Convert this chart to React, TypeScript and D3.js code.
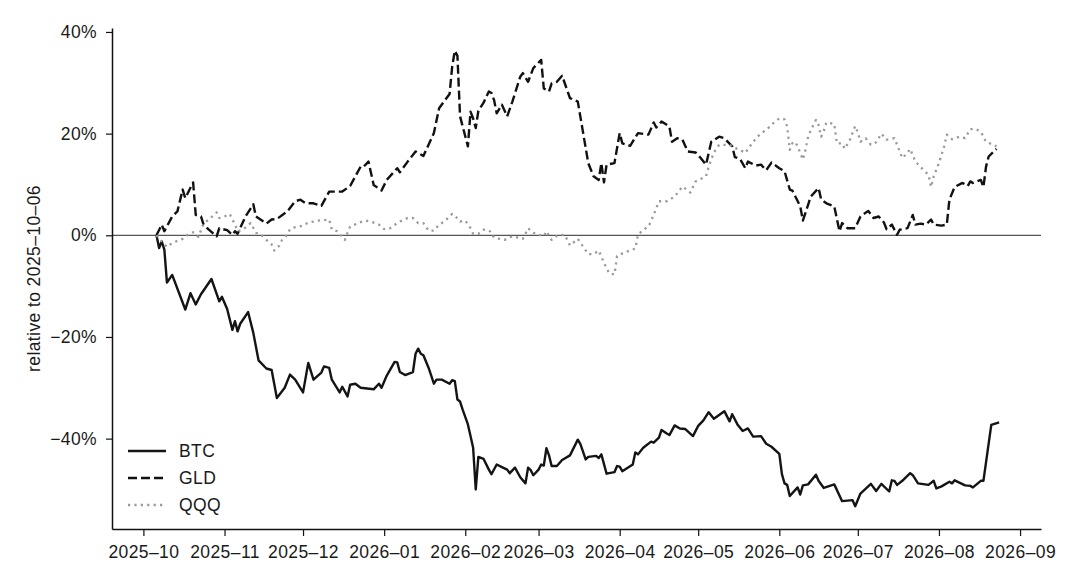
// @ts-nocheck
import { useRef, useEffect } from "react";
import * as d3 from "d3";

// days since 2025-10-06, % change relative to that date
const startDate = "2025-10-06";

const btc = [
  [0, 0], [1, -2.5], [2, -1.2], [3, -2.8], [4, -9.3], [6, -7.8], [11, -14.6], [13, -11.4],
  [15, -13.6], [17, -11.6], [21, -8.6], [24, -13], [25, -12.1], [27, -14.5], [29, -18.6],
  [30, -16.9], [31, -18.9], [32, -17.4], [35, -15.1], [37, -19.2], [39, -24.6], [42, -26.2],
  [44, -26.5], [46, -32], [49, -30], [51, -27.4], [53, -28.4], [56, -30.9], [58, -25.1],
  [60, -28.4], [63, -27], [64, -25.8], [66, -26.1], [67, -28.4], [70, -30.9], [71, -29.8],
  [73, -31.7], [74, -29.4], [76, -29.2], [78, -30], [83, -30.3], [85, -29.2], [86, -30],
  [88, -27.6], [91, -24.9], [92, -25], [93, -26.9], [95, -27.5], [98, -26.9], [99, -23.3],
  [100, -22.3], [101, -23.3], [102, -23.6], [104, -26.1], [106, -29.2], [107, -28.4],
  [109, -28.4], [112, -29.2], [113, -28.5], [114, -28.7], [115, -32.3], [116, -32.7],
  [117, -34.3], [119, -37.2], [120, -39.5], [121, -41.8], [122, -50], [123, -43.6],
  [125, -44], [127, -46.1], [128, -47], [130, -45.1], [132, -45.6], [134, -46.1], [135, -46.8],
  [137, -45.7], [139, -47.6], [141, -48.8], [142, -45.7], [143, -46.2], [144, -47.2],
  [146, -46.1], [147, -45.1], [148, -45.3], [149, -41.9], [150, -43.3], [151, -45.4],
  [153, -45.4], [155, -44.2], [158, -43.3], [161, -40.2], [162, -41.1], [164, -44.1],
  [165, -43.6], [168, -43.4], [169, -43.8], [170, -43.1], [172, -46.9], [174, -46.7],
  [175, -46.6], [176, -45.4], [177, -45.5], [178, -46.4], [182, -45.1], [183, -42.7],
  [184, -43.1], [186, -41.8], [189, -40.6], [190, -40.8], [192, -39.8], [193, -38.3],
  [195, -39], [196, -39.3], [198, -37.4], [200, -38], [202, -38.1], [205, -39.5], [207, -37.5],
  [209, -36.4], [211, -34.8], [213, -36.1], [217, -34.6], [219, -36.6], [220, -35.2],
  [222, -37.2], [224, -38.5], [226, -38], [228, -39.6], [231, -39.5], [233, -41], [235, -41.6],
  [238, -43], [239, -47], [240, -48.8], [241, -49.1], [242, -51.3], [245, -49.6], [246, -51],
  [247, -49.2], [249, -49], [252, -47.1], [253, -48.3], [255, -49.7], [259, -49], [262, -52.3],
  [266, -52.1], [267, -53.3], [269, -50.8], [273, -48.9], [275, -50.3], [277, -48.9],
  [280, -50.4], [281, -48.2], [282, -48.3], [283, -49.1], [285, -48.3], [288, -46.8],
  [289, -47.2], [291, -48.8], [295, -49.1], [297, -48.3], [298, -49.8], [300, -49.4],
  [303, -48.5], [304, -48.8], [305, -48.2], [309, -49.2], [311, -49.3], [312, -49.6],
  [315, -48.3], [316, -48.3], [319, -37.3], [322, -36.8],
];

const gld = [
  [0, 0], [2, 2.1], [3, 0.8], [6, 3.7], [8, 4.7], [10, 9], [11, 7.3], [14, 10.4], [15, 4],
  [17, 3.7], [18, 2.1], [20, 1.1], [23, -0.2], [24, 1.4], [27, 1], [29, 0.1], [30, 0.8],
  [31, 0.3], [34, 3.7], [37, 6.1], [38, 3.7], [42, 2.3], [44, 3.1], [46, 3.2], [50, 4.7],
  [53, 6.7], [55, 7], [57, 6.3], [60, 6.3], [63, 5.8], [66, 8.6], [71, 8.6], [74, 9.7],
  [78, 13.5], [79, 13.4], [81, 14.5], [83, 9.9], [86, 8.8], [88, 10.9], [92, 13.2], [93, 12.4],
  [96, 14.5], [99, 16.5], [100, 16.2], [102, 15.6], [106, 20.1], [108, 25], [112, 27.8],
  [113, 33.2], [114, 36.3], [115, 35.3], [116, 23.4], [119, 17.5], [120, 24.3], [121, 23],
  [122, 21.1], [123, 24.5], [125, 26.1], [127, 28.3], [128, 28], [129, 26.6], [130, 24],
  [132, 25.7], [134, 23.4], [136, 26.3], [139, 31.2], [140, 31.9], [142, 30.2], [144, 32.9],
  [147, 34.5], [148, 28.9], [150, 28.3], [151, 29.9], [153, 30.2], [155, 31.4], [158, 27],
  [161, 26.3], [165, 14.2], [167, 11.6], [169, 10.9], [170, 14.2], [171, 10.4], [172, 13.9],
  [175, 14.2], [177, 20.1], [178, 18.1], [181, 17.6], [184, 20.1], [188, 19.8], [190, 22.2],
  [191, 21.2], [193, 22.4], [196, 21.4], [197, 18.4], [199, 19.1], [201, 18.8], [203, 16.5],
  [206, 16.3], [207, 15.8], [210, 13.9], [212, 18.4], [215, 19.4], [217, 19.1], [220, 17.5],
  [221, 15.4], [223, 15], [225, 13.2], [226, 14.5], [229, 13.7], [231, 13.9], [233, 12.8],
  [235, 14.3], [238, 13.2], [240, 12.6], [242, 9], [243, 8.8], [246, 5.7], [247, 2.9],
  [249, 6], [250, 7.6], [253, 9.3], [254, 7], [256, 6.3], [259, 5.7], [261, 0.8], [262, 2.4],
  [264, 1.4], [267, 1.4], [269, 3.7], [272, 4.8], [274, 3.4], [276, 3.7], [278, 2.5],
  [279, 1.2], [281, 2.1], [283, 0.1], [284, 1.1], [287, 1.4], [289, 4], [290, 2.1], [292, 2.3],
  [294, 2.1], [296, 3.1], [297, 2.1], [300, 1.9], [302, 2.1], [303, 7], [305, 9.5], [308, 10.3],
  [310, 9.7], [311, 10.6], [312, 10.3], [315, 10.9], [316, 9.5], [317, 13.5], [318, 15.5],
  [320, 16.5], [321, 17],
];

const qqq = [
  [0, 0], [2, -1.2], [4, -2.3], [6, -1.5], [10, -0.7], [12, 0.1], [14, 0.6], [16, -0.3],
  [18, 2.3], [20, 3.1], [23, 4.5], [24, 3.4], [26, 3.7], [28, 4.2], [30, 2.1], [31, 0.8],
  [33, 1.1], [36, 2.4], [38, 0.5], [40, 0.1], [42, -0.9], [44, -1.8], [45, -3], [47, -2],
  [48, -0.9], [50, 0.1], [51, 1.2], [53, 1.6], [56, 1.9], [58, 2.5], [62, 2.9], [66, 3.1],
  [67, 1.1], [69, 0.8], [72, -0.9], [73, 0.5], [74, 1.7], [78, 2.6], [80, 2.9], [83, 2.5],
  [85, 2.1], [87, 1.2], [89, 1.3], [92, 2.4], [93, 2.7], [96, 3.4], [98, 3.4], [100, 2.4],
  [102, 2.4], [104, 0.9], [106, 0.9], [108, 2.1], [110, 2.7], [113, 4.2], [114, 3.9],
  [116, 2.7], [118, 2.9], [120, 1.4], [121, 0.3], [123, 0.3], [125, 1.1], [127, 1], [128, 0.5],
  [129, -0.5], [133, -0.9], [136, -0.2], [140, -0.7], [142, 1.4], [144, 0.5], [148, -0.2],
  [149, 0.8], [151, -0.9], [153, -0.1], [156, 0.1], [158, -2], [161, -0.7], [165, -3.7],
  [167, -3.7], [169, -3], [171, -5.4], [173, -7.5], [175, -7.7], [176, -4.1], [179, -3.3],
  [181, -3], [183, -2.6], [184, 0.1], [186, 1.1], [188, 1.7], [190, 4], [192, 6.7], [195, 6.7],
  [198, 7.6], [201, 9.6], [204, 8.4], [206, 10.6], [210, 11.6], [211, 13.5], [213, 16.3],
  [215, 17.8], [219, 17.8], [221, 17.2], [223, 16.8], [225, 16.2], [228, 18.4], [231, 20.1],
  [233, 20.7], [236, 22.2], [238, 23], [240, 22.8], [241, 21.4], [242, 16.8], [243, 18.1],
  [244, 18.4], [245, 17.5], [247, 14.9], [248, 16.8], [249, 19.4], [251, 21.7], [252, 22.7],
  [253, 21.7], [254, 19.4], [255, 20.6], [256, 22.2], [259, 21.9], [260, 18.1], [262, 18.1],
  [263, 17], [265, 18.8], [267, 21.5], [268, 20.2], [269, 18.4], [271, 19.1], [273, 17.8],
  [275, 18.3], [277, 20], [279, 18.8], [282, 19.1], [285, 15.2], [287, 16.2], [288, 17],
  [290, 14.5], [293, 12.9], [295, 11.9], [296, 9.5], [297, 11.6], [299, 14.2], [301, 17.5],
  [302, 19.8], [304, 18.9], [307, 19.4], [309, 19.1], [311, 20.9], [313, 20.9], [315, 20.4],
  [317, 18.4], [321, 17.5],
];

const yTicks = [-40, -20, 0, 20, 40];

const seriesList = [
  { name: "BTC", data: btc, color: "#141414", width: 2.4, dash: null },
  { name: "GLD", data: gld, color: "#111111", width: 2.4, dash: "9,4" },
  { name: "QQQ", data: qqq, color: "#9a9a9a", width: 2.3, dash: "2.2,4.2" },
];

const ChangeChart = ({ width = 1080, height = 585 }) => {
  const svgRef = useRef();

  useEffect(() => {
    const svg = d3.select(svgRef.current);
    svg.selectAll("*").remove();

    const margin = { top: 28, right: 39, bottom: 56, left: 112 };
    const t0 = new Date(startDate + "T00:00:00Z");
    const toDate = (d) => d3.utcDay.offset(t0, d);

    const all = seriesList.flatMap((s) => s.data);
    const [d0, d1] = d3.extent(all, (d) => d[0]);
    const [v0, v1] = d3.extent(all, (d) => d[1]);
    const dPad = (d1 - d0) * 0.05;
    const vPad = (v1 - v0) * 0.05;

    const x = d3
      .scaleUtc()
      .domain([toDate(d0 - dPad), toDate(d1 + dPad)])
      .range([margin.left, width - margin.right]);

    const y = d3
      .scaleLinear()
      .domain([v0 - vPad, v1 + vPad])
      .range([height - margin.bottom, margin.top]);

    const font = "'Liberation Sans', Arial, Helvetica, sans-serif";
    const fontSize = "17.5px";
    const spacing = "0.4px";

    // zero reference line
    svg
      .append("line")
      .attr("x1", margin.left)
      .attr("x2", width - margin.right)
      .attr("y1", y(0))
      .attr("y2", y(0))
      .attr("stroke", "#555")
      .attr("stroke-width", 1.3);

    const line = d3
      .line()
      .x((d) => x(toDate(d[0])))
      .y((d) => y(d[1]));

    seriesList.forEach((s) => {
      svg
        .append("path")
        .datum(s.data)
        .attr("fill", "none")
        .attr("stroke", s.color)
        .attr("stroke-width", s.width)
        .attr("stroke-linejoin", "round")
        .attr("stroke-dasharray", s.dash)
        .attr("d", line);
    });

    const xAxis = svg
      .append("g")
      .attr("transform", `translate(0,${height - margin.bottom})`)
      .call(
        d3
          .axisBottom(x)
          .ticks(d3.utcMonth.every(1))
          .tickFormat(d3.utcFormat("%Y–%m"))
          .tickSize(7)
          .tickSizeOuter(0)
          .tickPadding(10)
      );

    const yAxis = svg
      .append("g")
      .attr("transform", `translate(${margin.left},0)`)
      .call(
        d3
          .axisLeft(y)
          .tickValues(yTicks)
          .tickFormat((d) => `${d < 0 ? "−" : ""}${Math.abs(d)}%`)
          .tickSize(6)
          .tickSizeOuter(0)
          .tickPadding(9)
      );

    [xAxis, yAxis].forEach((g) => {
      g.select(".domain").attr("stroke", "#111").attr("stroke-width", 1.5);
      g.selectAll(".tick line").attr("stroke", "#111").attr("stroke-width", 1.2);
      g.selectAll(".tick text")
        .attr("fill", "#1a1a1a")
        .style("font-family", font)
        .style("font-size", fontSize)
        .style("letter-spacing", spacing);
    });

    // y label
    svg
      .append("text")
      .attr("transform", `translate(40,${(margin.top + height - margin.bottom) / 2}) rotate(-90)`)
      .attr("text-anchor", "middle")
      .attr("fill", "#1a1a1a")
      .style("font-family", font)
      .style("font-size", fontSize)
      .style("letter-spacing", spacing)
      .text("relative to 2025–10–06");

    // legend
    const legend = svg.append("g").attr("transform", "translate(128,451)");
    seriesList.forEach((s, i) => {
      const row = legend.append("g").attr("transform", `translate(0,${i * 27})`);
      row
        .append("line")
        .attr("x1", 0)
        .attr("x2", 38)
        .attr("stroke", s.color)
        .attr("stroke-width", s.width)
        .attr("stroke-dasharray", s.dash);
      row
        .append("text")
        .attr("x", 51)
        .attr("dy", "0.36em")
        .attr("fill", "#1a1a1a")
        .style("font-family", font)
        .style("font-size", fontSize)
        .style("letter-spacing", spacing)
        .text(s.name);
    });
  }, [width, height]);

  return (
    <svg
      ref={svgRef}
      width={width}
      height={height}
      style={{ position: "absolute", left: 0, top: 0, background: "#fff" }}
    ></svg>
  );
};

export default function App() {
  return <ChangeChart />;
}
